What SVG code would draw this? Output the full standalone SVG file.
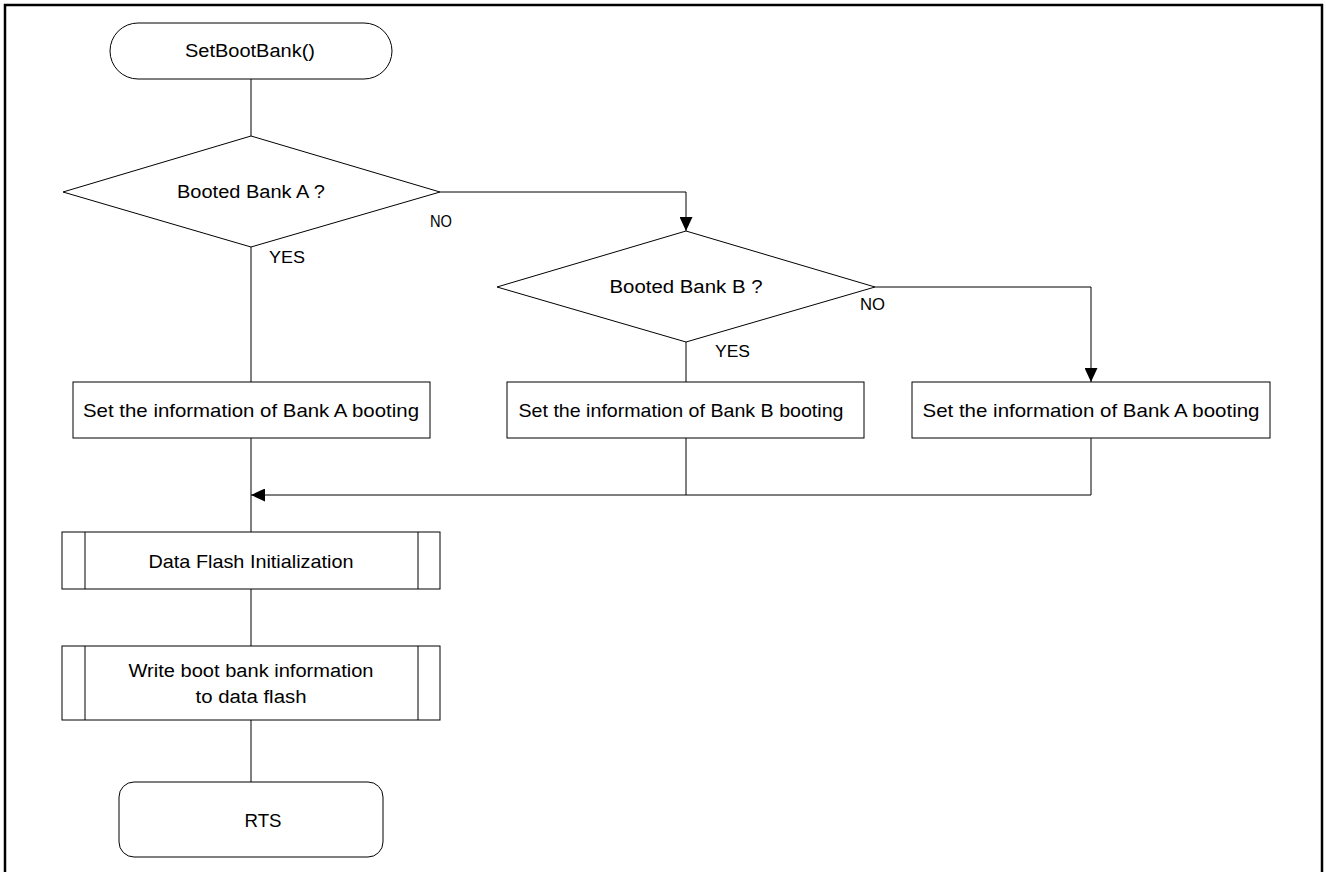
<svg xmlns="http://www.w3.org/2000/svg" width="1326" height="872" viewBox="0 0 1326 872">
  <style>
    .shape { fill: #ffffff; stroke: #000000; stroke-width: 1; }
    .line { fill: none; stroke: #000000; stroke-width: 1; }
    .lbl { font-family: "Liberation Sans", Arial, sans-serif; font-size: 18px; fill: #000000; }
    .big { font-size: 19px; }
    .small { font-size: 16px; }
    .mid { text-anchor: middle; }
  </style>
  <defs>
    <marker id="arrow" viewBox="0 0 14 13" refX="14" refY="6.5" markerWidth="14" markerHeight="13" markerUnits="userSpaceOnUse" orient="auto">
      <path d="M0,0 L14,6.5 L0,13 Z" fill="#000000"/>
    </marker>
  </defs>

  <rect x="0" y="0" width="1326" height="872" fill="#ffffff"/>
  <!-- frame (open at the bottom edge of the sheet) -->
  <path d="M5,880 L5,5 L1322,5 L1322,880" fill="none" stroke="#000000" stroke-width="2.5"/>

  <!-- connectors -->
  <g id="connectors">
    <line class="line" x1="251" y1="79" x2="251" y2="136"/>
    <line class="line" x1="251" y1="247" x2="251" y2="382"/>
    <polyline class="line" points="440,192 686,192 686,231" marker-end="url(#arrow)"/>
    <line class="line" x1="686" y1="342" x2="686" y2="382"/>
    <polyline class="line" points="875,287 1091,287 1091,382" marker-end="url(#arrow)"/>
    <line class="line" x1="251" y1="438" x2="251" y2="532"/>
    <line class="line" x1="686" y1="438" x2="686" y2="495"/>
    <polyline class="line" points="1091,438 1091,495 251,495" marker-end="url(#arrow)"/>
    <line class="line" x1="251" y1="589" x2="251" y2="646"/>
    <line class="line" x1="251" y1="720" x2="251" y2="782"/>
  </g>

  <!-- start terminator -->
  <g id="start">
    <rect class="shape" x="110" y="23" width="282" height="56" rx="28" ry="28"/>
    <text class="lbl mid" x="250" y="57" textLength="130" lengthAdjust="spacingAndGlyphs">SetBootBank()</text>
  </g>

  <!-- decision: bank A -->
  <g id="decision-a">
    <polygon class="shape" points="251,136 440,192 251,247 63,192"/>
    <text class="lbl mid" x="251" y="198" textLength="148" lengthAdjust="spacingAndGlyphs">Booted Bank A ?</text>
    <text class="lbl small" x="430" y="227" textLength="22" lengthAdjust="spacingAndGlyphs">NO</text>
    <text class="lbl small" x="269" y="263" textLength="36" lengthAdjust="spacingAndGlyphs">YES</text>
  </g>

  <!-- decision: bank B -->
  <g id="decision-b">
    <polygon class="shape" points="686,231 875,287 686,342 497,287"/>
    <text class="lbl mid" x="686" y="293" textLength="153" lengthAdjust="spacingAndGlyphs">Booted Bank B ?</text>
    <text class="lbl small" x="860" y="310" textLength="25" lengthAdjust="spacingAndGlyphs">NO</text>
    <text class="lbl small" x="715" y="357" textLength="35" lengthAdjust="spacingAndGlyphs">YES</text>
  </g>

  <!-- process boxes -->
  <g id="set-bank-a-left">
    <rect class="shape" x="73" y="382" width="357" height="56"/>
    <text class="lbl big mid" x="251" y="417" textLength="336" lengthAdjust="spacingAndGlyphs">Set the information of Bank A booting</text>
  </g>

  <g id="set-bank-b">
    <rect class="shape" x="507" y="382" width="357" height="56"/>
    <text class="lbl big mid" x="681" y="417" textLength="325" lengthAdjust="spacingAndGlyphs">Set the information of Bank B booting</text>
  </g>

  <g id="set-bank-a-right">
    <rect class="shape" x="912" y="382" width="358" height="56"/>
    <text class="lbl big mid" x="1091" y="417" textLength="337" lengthAdjust="spacingAndGlyphs">Set the information of Bank A booting</text>
  </g>

  <!-- predefined processes -->
  <g id="data-flash-init">
    <rect class="shape" x="62" y="532" width="378" height="57"/>
    <line class="line" x1="85" y1="532" x2="85" y2="589"/>
    <line class="line" x1="418" y1="532" x2="418" y2="589"/>
    <text class="lbl big mid" x="251" y="568" textLength="205" lengthAdjust="spacingAndGlyphs">Data Flash Initialization</text>
  </g>

  <g id="write-boot-info">
    <rect class="shape" x="62" y="646" width="378" height="74"/>
    <line class="line" x1="85" y1="646" x2="85" y2="720"/>
    <line class="line" x1="418" y1="646" x2="418" y2="720"/>
    <text class="lbl mid" x="251" y="677" textLength="245" lengthAdjust="spacingAndGlyphs">Write boot bank information</text>
    <text class="lbl mid" x="251" y="703" textLength="111" lengthAdjust="spacingAndGlyphs">to data flash</text>
  </g>

  <!-- end terminator -->
  <g id="end">
    <rect class="shape" x="119" y="782" width="264" height="75" rx="15" ry="15"/>
    <text class="lbl big mid" x="263" y="827" textLength="37" lengthAdjust="spacingAndGlyphs">RTS</text>
  </g>
</svg>
